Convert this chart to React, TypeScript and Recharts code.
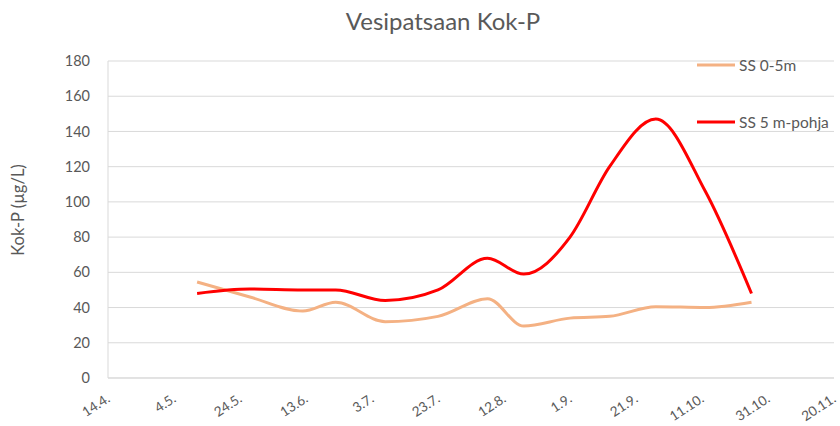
import React from "react";
import { LineChart, Line, XAxis, YAxis, CartesianGrid } from "recharts";

const sampleDates = [
  "2021-05-11", "2021-05-27", "2021-06-12", "2021-06-22", "2021-07-07",
  "2021-07-23", "2021-08-07", "2021-08-18", "2021-09-01", "2021-09-13",
  "2021-09-27", "2021-10-12", "2021-10-26",
];
const ss0_5m = [54.5, 46, 38, 43, 32, 35, 45, 29.5, 34, 35, 40.5, 40, 43];
const ss5mPohja = [48, 50.5, 50, 50, 44, 50, 68, 59, 80, 120, 147, 106, 48];
const tickDates = [
  "2021-04-14", "2021-05-04", "2021-05-24", "2021-06-13", "2021-07-03", "2021-07-23",
  "2021-08-12", "2021-09-01", "2021-09-21", "2021-10-11", "2021-10-31", "2021-11-20",
];
const yTicks = [0, 20, 40, 60, 80, 100, 120, 140, 160, 180];

const DAY = 86400000;
const toDay = (s: string) => Math.round(Date.parse(s + "T00:00:00Z") / DAY);
const fmt = (d: number) => {
  const dt = new Date(d * DAY);
  return `${dt.getUTCDate()}.${dt.getUTCMonth() + 1}.`;
};

const data = sampleDates.map((d, i) => ({
  day: toDay(d),
  a: ss0_5m[i],
  b: ss5mPohja[i],
}));
const xTicks = tickDates.map(toDay);

const FONT = "Lato, 'Open Sans', sans-serif";
const GREY = "#595959";

const XTick = (props: any) => {
  const { x, y, payload } = props;
  return (
    <text
      x={0}
      y={0}
      transform={`translate(${x + 3},${y + 15}) rotate(-33)`}
      textAnchor="end"
      fill={GREY}
      fontSize={13.5}
      fontFamily={FONT}
    >
      {fmt(payload.value)}
    </text>
  );
};

export default function App() {
  return (
    <div style={{ position: "absolute", left: 0, top: 0, width: 840, height: 426, background: "#fff" }}>
      <LineChart
        width={840}
        height={426}
        data={data}
        margin={{ top: 61, right: 6, bottom: 0, left: 0 }}
      >
        <CartesianGrid vertical={false} stroke="#d9d9d9" strokeWidth={1} />
        <XAxis
          dataKey="day"
          type="number"
          domain={[xTicks[0], xTicks[xTicks.length - 1]]}
          ticks={xTicks}
          tick={<XTick />}
          tickLine={false}
          axisLine={{ stroke: "#d9d9d9" }}
          interval={0}
          height={48}
        />
        <YAxis
          domain={[0, 180]}
          ticks={yTicks}
          width={108}
          tickLine={false}
          axisLine={{ stroke: "#d9d9d9" }}
          tickMargin={12}
          tick={{ fill: GREY, fontSize: 14.5, fontFamily: FONT }}
        />
        <Line
          type="monotone"
          dataKey="a"
          stroke="#F4B183"
          strokeWidth={3}
          dot={false}
          isAnimationActive={false}
        />
        <Line
          type="monotone"
          dataKey="b"
          stroke="#FF0000"
          strokeWidth={3}
          dot={false}
          isAnimationActive={false}
        />
        <text x={443} y={30} textAnchor="middle" fill={GREY} fontSize={24} fontFamily={FONT}>
          Vesipatsaan Kok-P
        </text>
        <text
          x={0}
          y={0}
          transform="translate(24,210) rotate(-90)"
          textAnchor="middle"
          fill={GREY}
          fontSize={16.5}
          fontFamily={FONT}
        >
          Kok-P (µg/L)
        </text>
        <line x1={697} x2={735} y1={65} y2={65} stroke="#F4B183" strokeWidth={3} />
        <text x={739} y={71} fill={GREY} fontSize={15.5} fontFamily={FONT}>SS 0-5m</text>
        <line x1={697} x2={735} y1={122} y2={122} stroke="#FF0000" strokeWidth={3} />
        <text x={739} y={128} fill={GREY} fontSize={15.5} fontFamily={FONT}>SS 5 m-pohja</text>
      </LineChart>
    </div>
  );
}
